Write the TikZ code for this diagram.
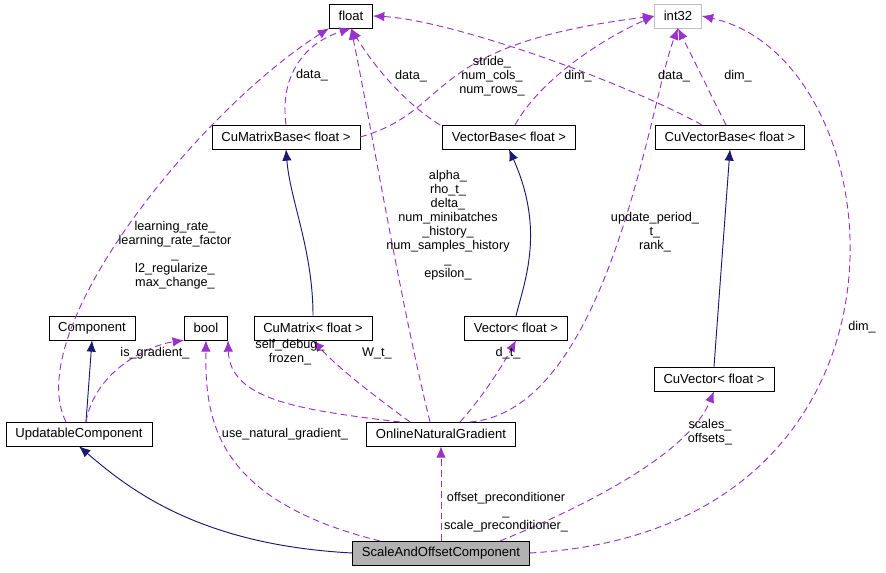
\documentclass[tikz,border=0pt]{standalone}
\usepackage{fontspec}
\setmainfont{Liberation Sans}
\usetikzlibrary{arrows.meta}
\definecolor{edgeviolet}{RGB}{153,50,204}
\definecolor{edgenavy}{RGB}{25,25,112}
\tikzset{%
  >={Latex[width=2.5mm,length=3mm]},
  % Specifications for style of nodes:
  cls/.style = {rectangle, draw=black, fill=white, minimum height=18pt,
                inner xsep=7pt, text centered, font=\fontsize{9.8}{11}\selectfont},
  extcls/.style = {cls, draw=black!25, text=black},
  focus/.style = {cls, fill=black!30},
  lbl/.style = {align=center, font=\fontsize{9.5}{10.5}\selectfont, inner sep=1pt},
  uses/.style = {->, edgeviolet, dash pattern=on 5pt off 3pt, line width=0.7pt},
  inherits/.style = {->, edgenavy, line width=0.7pt}
}
\begin{document}
\begin{tikzpicture}[x=0.75pt, y=-0.75pt]
  \useasboundingbox (0,0) rectangle (886,573);

  \node (float)  [cls]    at (351,16)  {float};
  \node (int)    [extcls] at (678,16)  {int32};
  \node (cmb)    [cls]    at (286,137) {CuMatrixBase< float >};
  \node (vb)     [cls]    at (509,137) {VectorBase< float >};
  \node (cvb)    [cls]    at (730,137) {CuVectorBase< float >};
  \node (comp)   [cls]    at (92,328)  {Component};
  \node (bool)   [cls]    at (206,328) {bool};
  \node (cm)     [cls]    at (313,328) {CuMatrix< float >};
  \node (vec)    [cls]    at (516,328) {Vector< float >};
  \node (cv)     [cls]    at (714,379) {CuVector< float >};
  \node (uc)     [cls]    at (79,434)  {UpdatableComponent};
  \node (ong)    [cls]    at (441,434) {OnlineNaturalGradient};
  \node (sao)    [focus]  at (441,553) {ScaleAndOffsetComponent};

  % inheritance
  \draw[inherits] (sao.west) .. controls (200,545) and (130,490) .. (uc.south);
  \draw[inherits] (86,422) -- (comp.south);
  \draw[inherits] (cm.north) .. controls (313,250) and (290,200) .. (cmb.south);
  \draw[inherits] (vec.north) .. controls (525,280) and (545,230) .. (vb.south);
  \draw[inherits] (cv.north) -- (cvb.south);

  % members
  \draw[uses] (66,422) .. controls (20,330) and (200,110) .. (float.south west);
  \draw[uses] (86,422) .. controls (95,370) and (150,345) .. (bool.south west);
  \draw[uses] (380,541) .. controls (215,500) and (205,420) .. (bool.south);
  \draw[uses] (cmb.north) .. controls (280,80) and (300,45) .. (float.south);
  \draw[uses] (cmb.east) .. controls (455,110) and (420,45) .. (int.west);
  \draw[uses] (440,125) .. controls (400,100) and (370,60) .. (float.south);
  \draw[uses] (515,125) .. controls (540,80) and (600,40) .. (int.west);
  \draw[uses] (702,125) .. controls (620,80) and (450,20) .. (float.east);
  \draw[uses] (726,125) -- (int.south);
  \draw[uses] (430,422) .. controls (400,300) and (370,120) .. (float.south);
  \draw[uses] (470,422) .. controls (610,410) and (650,100) .. (int.south);
  \draw[uses] (400,422) .. controls (300,410) and (230,400) .. (bool.south east);
  \draw[uses] (410,422) .. controls (380,400) and (340,370) .. (cm.south);
  \draw[uses] (460,422) .. controls (480,400) and (500,370) .. (vec.south);
  \draw[uses] (sao.north) -- (ong.south);
  \draw[uses] (500,541) .. controls (600,500) and (690,450) .. (cv.south);
  \draw[uses] (sao.east) .. controls (945,530) and (900,60) .. (int.east);

  % labels
  \node (lupd)  [lbl] at (175,255) {learning\_rate\_\\learning\_rate\_factor\\\_\\l2\_regularize\_\\max\_change\_};
  \node (lgrad) [lbl] at (155,353) {is\_gradient\_};
  \node (lnat)  [lbl] at (285,434) {use\_natural\_gradient\_};
  \node (ldat1) [lbl] at (312,75)  {data\_};
  \node (lstr)  [lbl] at (492,76)  {stride\_\\num\_cols\_\\num\_rows\_};
  \node (ldat2) [lbl] at (411,76)  {data\_};
  \node (ldim1) [lbl] at (578,76)  {dim\_};
  \node (ldat3) [lbl] at (674,76)  {data\_};
  \node (ldim2) [lbl] at (738,76)  {dim\_};
  \node (lalph) [lbl] at (448,225) {alpha\_\\rho\_t\_\\delta\_\\num\_minibatches\\\_history\_\\num\_samples\_history\\\_\\epsilon\_};
  \node (lper)  [lbl] at (655,232) {update\_period\_\\t\_\\rank\_};
  \node (ldbg)  [lbl] at (290,352) {self\_debug\_\\frozen\_};
  \node (lwt)   [lbl] at (377,353) {W\_t\_};
  \node (ldt)   [lbl] at (508,353) {d\_t\_};
  \node (lpre)  [lbl] at (506,512) {offset\_preconditioner\\\_\\scale\_preconditioner\_};
  \node (lscl)  [lbl] at (710,432) {scales\_\\offsets\_};
  \node (ldim3) [lbl] at (862,327) {dim\_};
\end{tikzpicture}
\end{document}
